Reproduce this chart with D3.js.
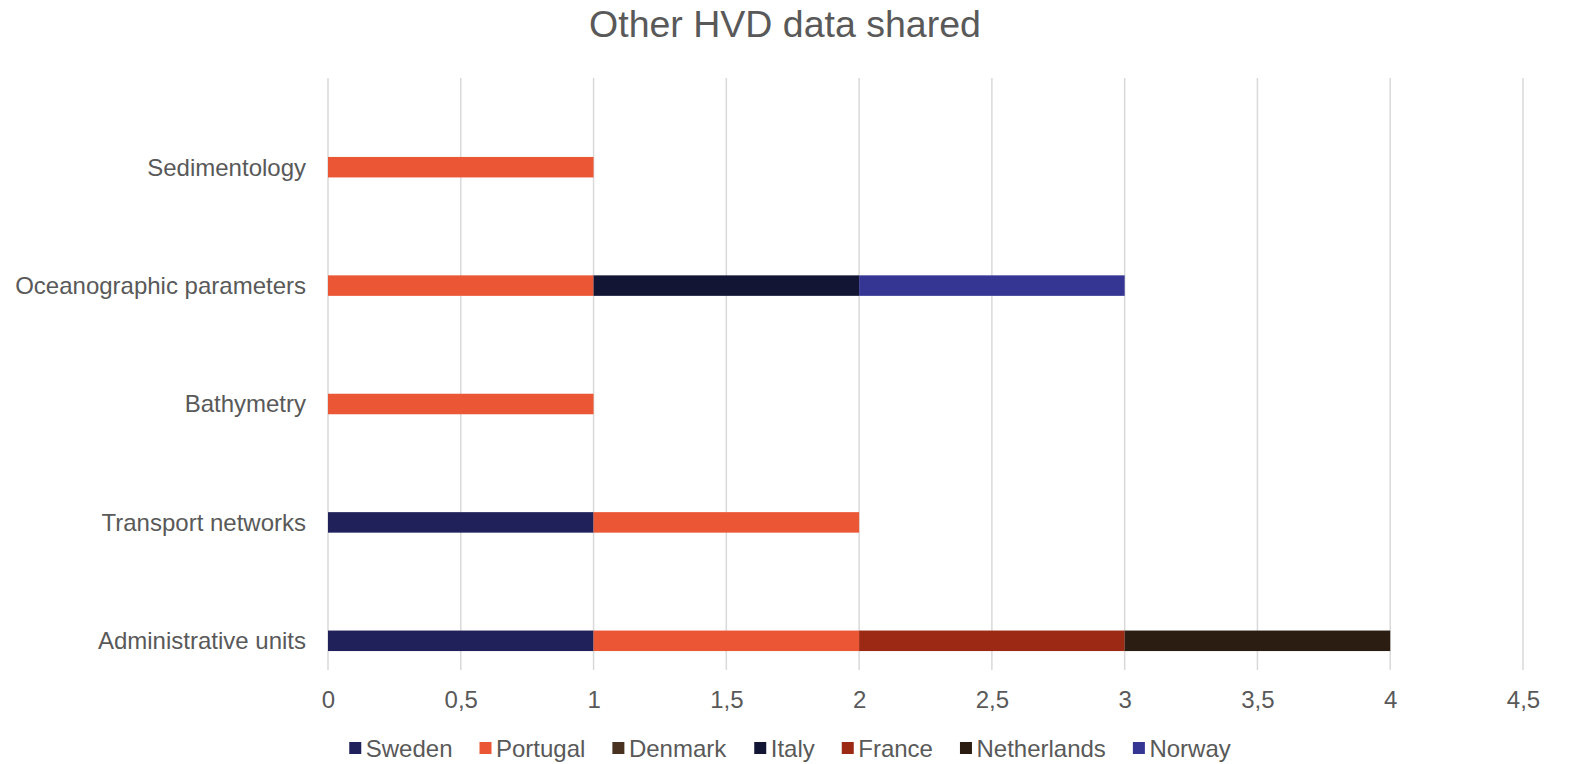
<!DOCTYPE html>
<html>
<head>
<meta charset="utf-8">
<script src="https://cdn.jsdelivr.net/npm/d3@7"></script>
<style>
html,body{margin:0;padding:0;background:#fff;}
svg{display:block;font-family:"Liberation Sans",Arial,sans-serif;}
</style>
</head>
<body>
<svg id="chart" width="1570" height="764"></svg>
<script>
const categories = ["Sedimentology","Oceanographic parameters","Bathymetry","Transport networks","Administrative units"];
const seriesNames = ["Sweden","Portugal","Denmark","Italy","France","Netherlands","Norway"];
const sweden      = [0,0,0,1,1];
const portugal    = [1,1,1,1,1];
const denmark     = [0,0,0,0,0];
const italy       = [0,1,0,0,0];
const france      = [0,0,0,0,1];
const netherlands = [0,0,0,0,1];
const norway      = [0,1,0,0,0];
const xTicks = [0,0.5,1,1.5,2,2.5,3,3.5,4,4.5];
const colors = ["#20205a","#eb5635","#4a3220","#131535","#9b2913","#2b1d12","#353593"];
const title = "Other HVD data shared";

const seriesValues = [sweden,portugal,denmark,italy,france,netherlands,norway];
const rows = categories.map((c,i)=>{
  const r = {category:c};
  seriesNames.forEach((s,j)=>{ r[s] = seriesValues[j][i]; });
  return r;
});

const svg = d3.select("#chart");
const textColor = "#595959";
const fs = 24;

const x = d3.scaleLinear().domain([0,4.5]).range([328,1523]);
const y = d3.scaleBand().domain(categories).range([108,700]);
const gridTop = 78, gridBottom = 670;

// gridlines
svg.append("g").selectAll("line").data(xTicks).join("line")
  .attr("x1",d=>x(d)).attr("x2",d=>x(d))
  .attr("y1",gridTop).attr("y2",gridBottom)
  .attr("stroke","#d9d9d9").attr("stroke-width",1.5);

// bars
const stack = d3.stack().keys(seriesNames)(rows);
const barH = 20.5;
svg.append("g").selectAll("g").data(stack).join("g")
  .attr("fill",(d,i)=>colors[i])
  .selectAll("rect").data(d=>d).join("rect")
  .attr("x",d=>x(d[0]))
  .attr("width",d=>x(d[1])-x(d[0]))
  .attr("y",d=>y(d.data.category)+y.bandwidth()/2-barH/2)
  .attr("height",d=>(d[1]-d[0])>0?barH:0);

// x tick labels
const fmt = d=>String(d).replace(".",",");
const xAxis = d3.axisBottom(x).tickValues(xTicks).tickFormat(fmt).tickSize(0).tickPadding(0);
const gx = svg.append("g").attr("transform",`translate(0,${gridBottom})`).call(xAxis);
gx.select(".domain").remove();
gx.selectAll("text").attr("fill",textColor).attr("font-size",fs)
  .attr("font-family","Liberation Sans, Arial, sans-serif").attr("dy",null).attr("y",38);

// y category labels
const yAxis = d3.axisLeft(y).tickSize(0).tickPadding(0);
const gy = svg.append("g").attr("transform","translate(306,0)").call(yAxis);
gy.select(".domain").remove();
gy.selectAll("text").attr("fill",textColor).attr("font-size",fs)
  .attr("font-family","Liberation Sans, Arial, sans-serif").attr("dy","0.35em").attr("x",0);

// title
svg.append("text").attr("x",785).attr("y",37).attr("text-anchor","middle")
  .attr("fill",textColor).attr("font-size",37.5).text(title);

// legend
const lg = svg.append("g");
const items = lg.selectAll("g").data(seriesNames).join("g");
items.append("rect").attr("width",12).attr("height",12).attr("y",-15)
  .attr("fill",(d,i)=>colors[i]);
items.append("text").attr("x",16.5).attr("y",0).attr("fill",textColor)
  .attr("font-size",fs).text(d=>d);
const widths = items.nodes().map(n=>n.getBBox().width);
const gap = 27;
const total = d3.sum(widths)+gap*(widths.length-1);
let start = 790 - total/2;
items.attr("transform",(d,i)=>{
  const t = `translate(${start},${757})`;
  start += widths[i]+gap;
  return t;
});
</script>
</body>
</html>
